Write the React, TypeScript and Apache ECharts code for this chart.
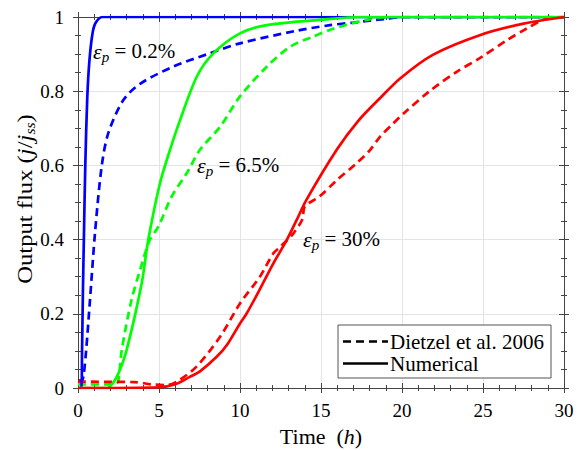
import React, { useEffect, useRef } from 'react';
import * as echarts from 'echarts';

const FONT = '"Liberation Serif", "DejaVu Serif", serif';

// x ticks / y ticks
const xTicks = [0, 5, 10, 15, 20, 25, 30];
const yTicks = [0, 0.2, 0.4, 0.6, 0.8, 1];

// eps_p = 0.2 %
const blueNumX = [0, 0.2, 0.25, 0.3, 0.37, 0.45, 0.57, 0.7, 0.9, 1.1, 1.5, 30];
const blueNumY = [0, 0, 0.1, 0.25, 0.42, 0.6, 0.78, 0.88, 0.957, 0.985, 1, 1];
const blueDieX = [0, 0.2, 0.33, 0.5, 0.74, 1.05, 1.46, 1.87, 2.8, 3.83, 5.87, 8, 10, 13.5, 15.55, 17, 19, 20, 30];
const blueDieY = [0.02, 0.02, 0.03, 0.1, 0.237, 0.418, 0.597, 0.687, 0.776, 0.82, 0.866, 0.9, 0.929, 0.963, 0.978, 0.985, 0.995, 1, 1];

// eps_p = 6.5 %
const greenNumX = [0, 1.8, 2.1, 2.5, 3.0, 3.93, 4.34, 5.06, 5.68, 6.3, 7.33, 8.35, 10, 11.65, 14.9, 17.5, 30];
const greenNumY = [0, 0, 0.01, 0.04, 0.102, 0.282, 0.4, 0.552, 0.642, 0.722, 0.839, 0.902, 0.956, 0.978, 0.992, 1, 1];
const greenDieX = [0, 2.3, 2.49, 2.7, 3.3, 3.83, 4.44, 4.96, 5.78, 6.7, 7.53, 8.77, 10, 11.65, 13.1, 14.5, 15.8, 17.8, 19.5, 30];
const greenDieY = [0.01, 0.01, 0.02, 0.102, 0.237, 0.318, 0.4, 0.435, 0.516, 0.578, 0.642, 0.704, 0.786, 0.866, 0.92, 0.947, 0.969, 0.992, 1, 1];

// eps_p = 30 %
const redNumX = [0, 5, 6, 6.9, 7.53, 8.56, 9.18, 10, 10.4, 11.2, 12.06, 12.9, 13.5, 14.1, 15.97, 17.3, 18.64, 19.9, 21.9, 24.8, 27.5, 30];
const redNumY = [0, 0.002, 0.01, 0.03, 0.045, 0.084, 0.115, 0.174, 0.2, 0.264, 0.336, 0.4, 0.453, 0.507, 0.642, 0.72, 0.781, 0.835, 0.898, 0.951, 0.982, 1];
const redDieX = [0, 3.5, 4.5, 5.5, 6.2, 7.3, 8.77, 10, 11.23, 12.06, 12.47, 13.3, 13.85, 14.0, 14.9, 15.97, 17.2, 18.0, 18.64, 19.46, 20.1, 21.7, 23.4, 24.8, 26.5, 27.7, 28.7, 30];
const redDieY = [0.017, 0.016, 0.01, 0.008, 0.02, 0.057, 0.138, 0.228, 0.3, 0.363, 0.38, 0.417, 0.455, 0.489, 0.516, 0.56, 0.606, 0.64, 0.677, 0.713, 0.74, 0.8, 0.853, 0.889, 0.938, 0.969, 0.992, 1];

const legendLabels = ['Dietzel et al. 2006', 'Numerical'];
const annotations = ['0.2%', '6.5%', '30%'];

const pairs = (xs: number[], ys: number[]) => xs.map((x, i) => [x, ys[i]]);

const AX = '#444';

function xAxis(position: 'bottom' | 'top', inside: boolean, main: boolean) {
  return {
    type: 'value', min: xTicks[0], max: xTicks[xTicks.length - 1], interval: 5, position,
    axisLine: { show: true, onZero: false, lineStyle: { color: AX, width: 1 } },
    axisTick: { show: true, inside, length: 5, lineStyle: { color: AX, width: 1 } },
    minorTick: { show: true, splitNumber: 5, length: 3, lineStyle: { color: AX, width: 1 } },
    axisLabel: { show: main, color: '#000', fontSize: 19, fontFamily: FONT, margin: 13 },
    splitLine: { show: main, lineStyle: { color: '#e4e4e4', width: 1 } },
    minorSplitLine: { show: false },
  };
}
function yAxis(position: 'left' | 'right', inside: boolean, main: boolean) {
  return {
    type: 'value', min: yTicks[0], max: yTicks[yTicks.length - 1], interval: 0.2, position,
    axisLine: { show: true, onZero: false, lineStyle: { color: AX, width: 1 } },
    axisTick: { show: true, inside, length: 5, lineStyle: { color: AX, width: 1 } },
    minorTick: { show: true, splitNumber: 4, length: 3, lineStyle: { color: AX, width: 1 } },
    axisLabel: { show: main, color: '#000', fontSize: 19, fontFamily: FONT, margin: 14 },
    splitLine: { show: main, lineStyle: { color: '#e4e4e4', width: 1 } },
    minorSplitLine: { show: false },
  };
}

function line(name: string, xs: number[], ys: number[], color: string, dashed: boolean) {
  return {
    name, type: 'line', xAxisIndex: 0, yAxisIndex: 0,
    data: pairs(xs, ys), showSymbol: false, symbol: 'none',
    smooth: 0.3,
    lineStyle: { color, width: 2.7, type: dashed ? [8, 5] : 'solid' },
    z: dashed ? 3 : 4,
  };
}

const rich = {
  e: { fontStyle: 'italic', fontSize: 22, fontFamily: FONT, color: '#222', lineHeight: 26, verticalAlign: 'middle' },
  p: { fontStyle: 'italic', fontSize: 15, fontFamily: FONT, color: '#222', lineHeight: 15, verticalAlign: 'bottom' },
  t: { fontSize: 21, fontFamily: FONT, color: '#222', lineHeight: 26, verticalAlign: 'middle' },
};

function epsLabel(val: string, x: number, y: number) {
  return {
    type: 'text', left: x, top: y - 13, z: 10,
    style: { text: `{e|ε}{p|p}{t| = ${val}}`, rich },
  };
}

export default function App() {
  const ref = useRef<HTMLDivElement>(null);
  useEffect(() => {
    const chart = echarts.init(ref.current!, null, { renderer: 'svg' });
    chart.setOption({
      animation: false,
      backgroundColor: '#fff',
      grid: { left: 78, right: 19, top: 17, bottom: 62, outerBoundsMode: 'none', containLabel: false },
      xAxis: [xAxis('bottom', true, true), xAxis('bottom', false, false), xAxis('top', true, false), xAxis('top', false, false)],
      yAxis: [yAxis('left', true, true), yAxis('left', false, false), yAxis('right', true, false), yAxis('right', false, false)],
      series: [
        line('blueDie', blueDieX, blueDieY, '#0000ff', true),
        line('greenDie', greenDieX, greenDieY, '#00ff00', true),
        line('redDie', redDieX, redDieY, '#ff0000', true),
        line('blueNum', blueNumX, blueNumY, '#0000ff', false),
        line('greenNum', greenNumX, greenNumY, '#00ff00', false),
        line('redNum', redNumX, redNumY, '#ff0000', false),
      ],
      graphic: [
        epsLabel(annotations[0], 93, 53),
        epsLabel(annotations[1], 197, 167),
        epsLabel(annotations[2], 303, 241),
        {
          type: 'text', x: 24, y: 199, rotation: Math.PI / 2, scaleX: 1.12, z: 10,
          style: {
            text: '{t|Output flux (}{i|j}{t|/}{i|j}{s|ss}{t|)}',
            align: 'center', verticalAlign: 'middle',
            rich: {
              t: { fontSize: 22, fontFamily: FONT, color: '#000', lineHeight: 26, verticalAlign: 'middle' },
              i: { fontSize: 22, fontFamily: FONT, fontStyle: 'italic', color: '#000', lineHeight: 26, verticalAlign: 'middle' },
              s: { fontSize: 14, fontFamily: FONT, fontStyle: 'italic', color: '#000', lineHeight: 14, verticalAlign: 'bottom' },
            },
          },
        },
        {
          type: 'text', x: 321, y: 436, z: 10,
          style: {
            text: '{t|Time  (}{i|h}{t|)}', align: 'center', verticalAlign: 'middle',
            rich: {
              t: { fontSize: 22, fontFamily: FONT, color: '#000' },
              i: { fontSize: 22, fontFamily: FONT, fontStyle: 'italic', color: '#000' },
            },
          },
        },
        {
          type: 'group', z: 20,
          children: [
            { type: 'rect', shape: { x: 338, y: 325, width: 213, height: 53 }, style: { fill: '#fff', stroke: '#555', lineWidth: 1 }, z: 20 },
            { type: 'line', shape: { x1: 343, y1: 341.5, x2: 388, y2: 341.5 }, style: { stroke: '#000', lineWidth: 2.7, lineDash: [8, 5] }, z: 21 },
            { type: 'line', shape: { x1: 343, y1: 363.5, x2: 388, y2: 363.5 }, style: { stroke: '#000', lineWidth: 2.7 }, z: 21 },
            { type: 'text', x: 390, y: 341.5, z: 21, style: { text: legendLabels[0], fontSize: 21, fontFamily: FONT, fill: '#000', verticalAlign: 'middle' } },
            { type: 'text', x: 390, y: 363.5, z: 21, style: { text: legendLabels[1], fontSize: 21, fontFamily: FONT, fill: '#000', verticalAlign: 'middle' } },
          ],
        },
      ],
    });
    return () => chart.dispose();
  }, []);
  return <div ref={ref} style={{ position: 'absolute', left: 0, top: 0, width: 583, height: 450 }} />;
}
